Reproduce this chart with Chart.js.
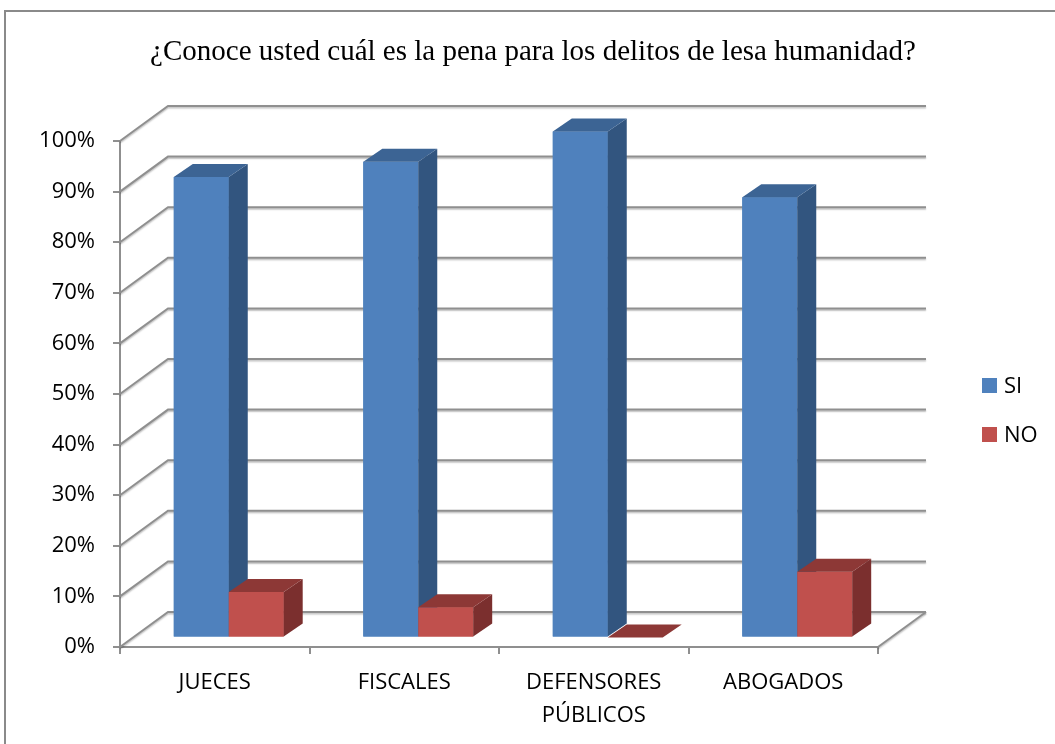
<!DOCTYPE html>
<html>
<head>
<meta charset="utf-8">
<script src="https://cdn.jsdelivr.net/npm/chart.js@4.4.1/dist/chart.umd.min.js"></script>
<style>
  html, body { margin: 0; padding: 0; background: #fff; }
  #wrap { width: 1055px; height: 744px; position: relative; }
</style>
</head>
<body>
<div id="wrap"><canvas id="chart"></canvas></div>
<script>
// Datos de la encuesta
const categories = ["JUECES", "FISCALES", ["DEFENSORES", "PÚBLICOS"], "ABOGADOS"];
const siValues = [91, 94, 100, 87];
const noValues = [9, 6, 0, 13];
const percentTicks = [0, 10, 20, 30, 40, 50, 60, 70, 80, 90, 100];

// Colores estilo Excel: cara frontal, cara superior, cara lateral
const blue = { front: "#4F81BD", top: "#3C6494", side: "#32557F" };
const red = { front: "#C0504D", top: "#8D3836", side: "#7B2F2E" };

// Profundidad de la caja 3D y de las barras
const wallDepth = { x: 48, y: 35 };
const barShift = { x: 14, y: 9.5 };
const barDepth = { x: 19, y: 13 };

const gridColor = "#8f8f8f";
const labelFont = { family: "'Open Sans', sans-serif", size: 22 };

// Pared de fondo, piso y caras laterales de las barras
const box3d = {
  id: "box3d",
  beforeDraw(chart) {
    const { ctx } = chart;
    ctx.save();
    ctx.strokeStyle = "#8a8a8a";
    ctx.lineWidth = 2;
    ctx.strokeRect(5, 11, chart.width + 20, chart.height + 20);
    ctx.restore();
  },
  beforeDatasetsDraw(chart) {
    const { ctx, chartArea: a, scales: { y } } = chart;
    ctx.save();
    ctx.strokeStyle = gridColor;
    ctx.lineWidth = 2;
    ctx.shadowColor = "rgba(0,0,0,0.25)";
    ctx.shadowOffsetY = 1.5;
    ctx.shadowBlur = 1.5;
    percentTicks.forEach((v) => {
      const py = y.getPixelForValue(v);
      ctx.beginPath();
      ctx.moveTo(a.left, py);
      ctx.lineTo(a.left + wallDepth.x, py - wallDepth.y);
      ctx.lineTo(a.right + wallDepth.x, py - wallDepth.y);
      ctx.stroke();
    });
    // borde derecho del piso
    ctx.beginPath();
    ctx.moveTo(a.right, a.bottom);
    ctx.lineTo(a.right + wallDepth.x, a.bottom - wallDepth.y);
    ctx.stroke();
    ctx.restore();

    // las barras se dibujan desplazadas hacia el fondo
    ctx.save();
    ctx.translate(barShift.x, -barShift.y);
  },
  afterDatasetsDraw(chart) {
    const { ctx } = chart;
    const metas = chart.data.datasets.map((d, i) => chart.getDatasetMeta(i));
    categories.forEach((c, i) => {
      metas.forEach((meta, d) => {
        const bar = meta.data[i];
        const faces = chart.data.datasets[d].faces;
        const { x, y, base, width } = bar.getProps(["x", "y", "base", "width"], true);
        const l = x - width / 2;
        const r = x + width / 2;
        // volver a pintar el frente para tapar la cara lateral de la barra anterior
        bar.draw(ctx);
        ctx.fillStyle = faces.side;
        ctx.beginPath();
        ctx.moveTo(r, y);
        ctx.lineTo(r + barDepth.x, y - barDepth.y);
        ctx.lineTo(r + barDepth.x, base - barDepth.y);
        ctx.lineTo(r, base);
        ctx.closePath();
        ctx.fill();
        ctx.fillStyle = faces.top;
        ctx.beginPath();
        ctx.moveTo(l, y);
        ctx.lineTo(l + barDepth.x, y - barDepth.y);
        ctx.lineTo(r + barDepth.x, y - barDepth.y);
        ctx.lineTo(r, y);
        ctx.closePath();
        ctx.fill();
      });
    });
    ctx.restore();
  },
};

// Leyenda a la derecha
const sideLegend = {
  id: "sideLegend",
  afterDraw(chart, args, opts) {
    const { ctx } = chart;
    ctx.save();
    ctx.font = `${labelFont.size}px ${labelFont.family}`;
    ctx.textBaseline = "middle";
    chart.data.datasets.forEach((ds, i) => {
      const top = opts.y + i * opts.spacing;
      ctx.fillStyle = ds.backgroundColor;
      ctx.fillRect(opts.x, top, opts.box, opts.box);
      ctx.fillStyle = "#000";
      ctx.fillText(ds.label, opts.x + opts.box + 7, top + opts.box / 2 + 1);
    });
    ctx.restore();
  },
};

const ctx = document.getElementById("chart").getContext("2d");
new Chart(ctx, {
  type: "bar",
  data: {
    labels: categories,
    datasets: [
      { label: "SI", data: siValues, backgroundColor: blue.front, faces: blue },
      { label: "NO", data: noValues, backgroundColor: red.front, faces: red },
    ],
  },
  options: {
    responsive: true,
    maintainAspectRatio: false,
    animation: false,
    layout: { padding: { top: 0, left: 11, right: 0, bottom: 0 } },
    datasets: {
      bar: { clip: false, barPercentage: 1, categoryPercentage: 0.58, borderWidth: 0 },
    },
    plugins: {
      legend: { display: false },
      tooltip: { enabled: false },
      title: {
        display: true,
        text: "¿Conoce usted cuál es la pena para los delitos de lesa humanidad?",
        color: "#000",
        font: { family: "'Liberation Serif', 'Times New Roman', serif", size: 29, weight: "normal", lineHeight: 1.2 },
        padding: { top: 35, bottom: 71.2 },
      },
      sideLegend: { x: 982, y: 378, spacing: 49, box: 15 },
    },
    scales: {
      x: {
        grid: { drawOnChartArea: false, drawTicks: true, tickLength: 7, color: gridColor, lineWidth: 2 },
        border: { color: gridColor, width: 2 },
        ticks: { color: "#000", font: { ...labelFont, lineHeight: 1.5 }, padding: 12, maxRotation: 0 },
        afterFit: (s) => { s.height = 97; },
      },
      y: {
        min: 0,
        max: 100,
        afterBuildTicks: (s) => { s.ticks = percentTicks.map((v) => ({ value: v })); },
        grid: { drawOnChartArea: false, drawTicks: true, tickLength: 7, color: gridColor, lineWidth: 2 },
        border: { color: gridColor, width: 2 },
        ticks: { color: "#000", font: labelFont, padding: 18, callback: (v) => v + "%" },
        afterFit: (s) => { s.width = 109; },
      },
      // espacio para la profundidad de la caja y la leyenda
      depth: {
        position: "right",
        display: true,
        grid: { display: false, drawTicks: false },
        border: { display: false },
        ticks: { display: false },
        afterFit: (s) => { s.width = 177; },
      },
    },
  },
  plugins: [box3d, sideLegend],
});
</script>
</body>
</html>
